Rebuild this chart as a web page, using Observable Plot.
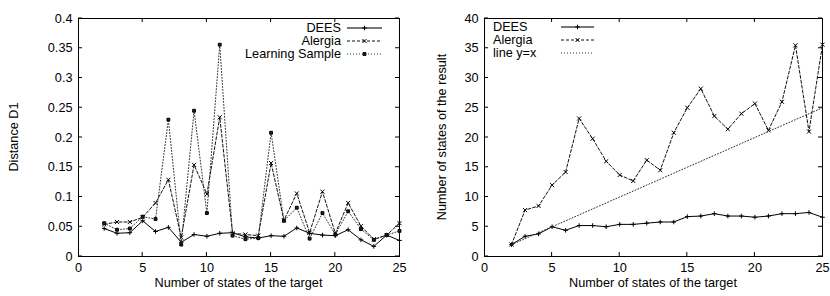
<!DOCTYPE html>
<html><head><meta charset="utf-8">
<script src="https://cdn.jsdelivr.net/npm/d3@7"></script>
<script src="https://cdn.jsdelivr.net/npm/@observablehq/plot@0.6"></script>
<style>
body{margin:0;background:#fff;}
#wrap{display:flex;width:830px;height:296px;}
svg{font-family:"Liberation Sans",Arial,sans-serif;}
</style></head>
<body><div id="wrap"></div>
<script>
const states = [2,3,4,5,6,7,8,9,10,11,12,13,14,15,16,17,18,19,20,21,22,23,24,25];
// Left panel: Distance D1
const d1Dees     = [0.047,0.039,0.040,0.060,0.042,0.049,0.024,0.037,0.034,0.039,0.040,0.033,0.031,0.035,0.034,0.048,0.039,0.036,0.035,0.045,0.028,0.017,0.036,0.027];
const d1Alergia  = [0.054,0.058,0.058,0.066,0.090,0.129,0.032,0.154,0.105,0.234,0.039,0.037,0.035,0.157,0.061,0.106,0.040,0.109,0.039,0.090,0.051,0.029,0.036,0.056];
const d1Sample   = [0.056,0.045,0.047,0.067,0.063,0.230,0.020,0.245,0.073,0.356,0.035,0.029,0.031,0.208,0.060,0.082,0.030,0.073,0.037,0.076,0.046,0.028,0.036,0.043];
// Right panel: number of states of the result
const nDees      = [2.0,3.4,3.8,5.0,4.4,5.2,5.2,5.0,5.4,5.4,5.6,5.8,5.8,6.7,6.8,7.2,6.8,6.8,6.6,6.8,7.2,7.2,7.4,6.6];
const nAlergia   = [2.0,7.8,8.5,12.0,14.2,23.2,19.8,16.0,13.7,12.7,16.2,14.5,20.8,25.0,28.2,23.6,21.4,24.0,25.7,21.2,26.0,35.5,21.0,35.6];
const xTicks = [0,5,10,15,20,25];
const yTicksL = [0,0.05,0.1,0.15,0.2,0.25,0.3,0.35,0.4];
const yTicksR = [0,5,10,15,20,25,30,35,40];
const leftLegend = ["DEES","Alergia","Learning Sample"];
const rightLegend = ["DEES","Alergia","line y=x"];

const FONT = 12.7;
const rows = (ys) => states.map((s,i)=>({x:s,y:ys[i]}));

function innerTicks(svg, plotObj, m, W, H, yTicks){
  const sx = plotObj.scale("x"), sy = plotObj.scale("y");
  const g = d3.select(svg).append("g").attr("stroke","#000").attr("stroke-width",1);
  for(const t of xTicks){
    const x = sx.apply(t);
    if (t===0||t===25) continue;
    g.append("line").attr("x1",x).attr("x2",x).attr("y1",H-m.bottom).attr("y2",H-m.bottom-4);
    g.append("line").attr("x1",x).attr("x2",x).attr("y1",m.top).attr("y2",m.top+4);
  }
  for(const t of yTicks){
    const y = sy.apply(t);
    g.append("line").attr("x1",m.left).attr("x2",m.left+4).attr("y1",y).attr("y2",y);
    g.append("line").attr("x1",W-m.right).attr("x2",W-m.right-4).attr("y1",y).attr("y2",y);
  }
}

function makePlot(opts){
  const {m, W, H, yDomain, yTicks, yFmt, series, ylabel} = opts;
  const marks = [];
  for(const s of series){
    marks.push(Plot.line(s.data, {x:"x", y:"y", stroke:s.color, strokeWidth:1, strokeDasharray:s.dash}));
    if(s.symbol) marks.push(Plot.dot(s.data, {x:"x", y:"y", symbol:s.symbol, r:s.r||2, stroke:"#000", strokeWidth:1, fill:s.fill||"none"}));
  }
  const p = Plot.plot({
    width:W, height:H, marginLeft:m.left, marginRight:m.right, marginTop:m.top, marginBottom:m.bottom,
    style:{fontFamily:"Liberation Sans, Arial, sans-serif", fontSize:FONT+"px", color:"#000", background:"#fff"},
    x:{domain:[0,25]}, y:{domain:yDomain},
    marks:[
      Plot.axisX({anchor:"bottom", ticks:xTicks, tickSize:0, tickPadding:6, label:null, fontSize:FONT}),
      Plot.axisY({anchor:"left", ticks:yTicks, tickSize:0, tickPadding:6, label:null, tickFormat:yFmt, fontSize:FONT}),
      Plot.frame({stroke:"#000", strokeWidth:1}),
      ...marks
    ]
  });
  innerTicks(p, p, m, W, H, yTicks);
  const svg = d3.select(p);
  svg.append("text").attr("x",(m.left+W-m.right)/2).attr("y",H-9).attr("text-anchor","middle")
     .attr("font-size",FONT).text("Number of states of the target");
  svg.append("text").attr("transform",`translate(${opts.ylx},${(m.top+H-m.bottom)/2}) rotate(-90)`)
     .attr("text-anchor","middle").attr("font-size",FONT).text(ylabel);
  return p;
}

function legend(p, items, layout){
  const svg = d3.select(p);
  items.forEach((it,i)=>{
    const y = layout.y0 + i*layout.dy;
    svg.append("text").attr("x",layout.tx).attr("y",y).attr("dy","0.35em").attr("text-anchor",layout.anchor)
      .attr("font-size",FONT).text(it.label);
    svg.append("line").attr("x1",layout.lx1).attr("x2",layout.lx2).attr("y1",y).attr("y2",y)
      .attr("stroke",it.legendColor||it.color).attr("stroke-width",it.legendWidth||1).attr("stroke-dasharray",it.dash||null);
    if(it.symbol){
      const sym = d3.symbol(it.d3sym, it.lsize||12)();
      svg.append("path").attr("d",sym).attr("transform",`translate(${(layout.lx1+layout.lx2)/2},${y})`)
        .attr("stroke","#000").attr("fill",it.fill||"none").attr("stroke-width",1);
    }
  });
}

const H = 296;
// Left
const mL = {left:78, right:16, top:18, bottom:40};
const seriesL = [
  {label:leftLegend[0], data:rows(d1Dees), color:"#000", dash:null, symbol:"plus", d3sym:d3.symbolPlus, r:1.6, lsize:8, legendColor:"#777", legendWidth:2},
  {label:leftLegend[1], data:rows(d1Alergia), color:"#111", dash:"3,2", symbol:"times", d3sym:d3.symbolTimes, r:2},
  {label:leftLegend[2], data:rows(d1Sample), color:"#333", dash:"1,2", symbol:"square", d3sym:d3.symbolSquare, r:1.6, lsize:8, fill:"#222"}
];
const pL = makePlot({m:mL, W:415, H, yDomain:[0,0.4], yTicks:yTicksL, yFmt:d=>d===0?"0":String(+d.toFixed(2)), series:seriesL, ylabel:"Distance D1", ylx:18});
legend(pL, seriesL, {tx:341, anchor:"end", lx1:347, lx2:382, y0:28, dy:13});

// Right
const mR = {left:69, right:8, top:18, bottom:40};
const seriesR = [
  {label:rightLegend[0], data:rows(nDees), color:"#000", dash:null, symbol:"plus", d3sym:d3.symbolPlus, r:1.6, lsize:8, legendColor:"#777", legendWidth:2},
  {label:rightLegend[1], data:rows(nAlergia), color:"#111", dash:"3,2", symbol:"times", d3sym:d3.symbolTimes, r:2},
  {label:rightLegend[2], data:rows(states), color:"#333", dash:"1,2"}
];
const pR = makePlot({m:mR, W:415, H, yDomain:[0,40], yTicks:yTicksR, yFmt:d=>String(d), series:seriesR, ylabel:"Number of states of the result", ylx:31});
legend(pR, seriesR, {tx:78, anchor:"start", lx1:146, lx2:179, y0:27, dy:13});

document.getElementById("wrap").append(pL, pR);
</script></body></html>
